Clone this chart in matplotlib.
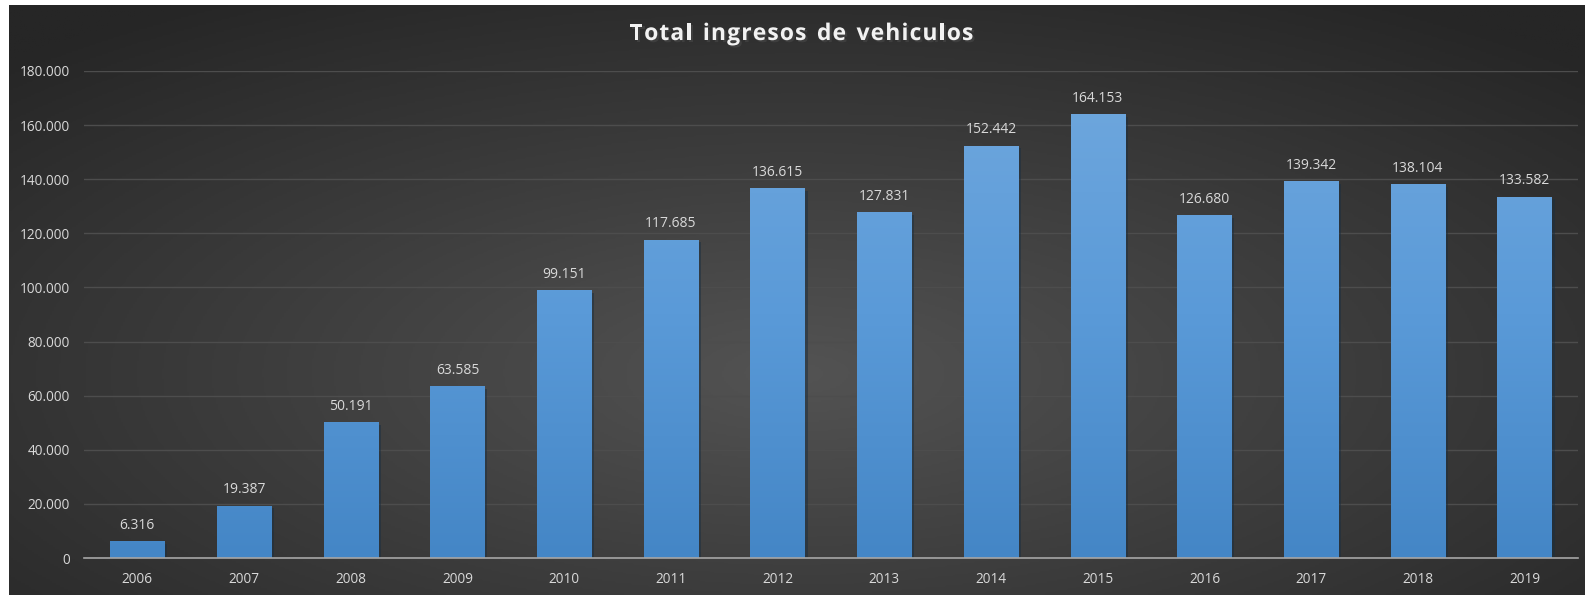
"""Total ingresos de vehiculos, 2006-2019 — Excel-style dark bar chart."""

import matplotlib

matplotlib.use("Agg")

import matplotlib.pyplot as plt
import matplotlib.patheffects as pe
import numpy as np
from matplotlib.colors import LinearSegmentedColormap
from matplotlib.ticker import FuncFormatter

years = ["2006", "2007", "2008", "2009", "2010", "2011", "2012",
         "2013", "2014", "2015", "2016", "2017", "2018", "2019"]
ingresos = [6316, 19387, 50191, 63585, 99151, 117685, 136615,
            127831, 152442, 164153, 126680, 139342, 138104, 133582]
yticks = [0, 20000, 40000, 60000, 80000, 100000, 120000, 140000, 160000, 180000]
TITLE = "Total ingresos de vehiculos"

plt.rcParams["font.family"] = ["Open Sans", "DejaVu Sans"]
TEXT = "#d9d9d9"


def miles(v, _=None):
    return f"{int(v):,}".replace(",", ".")


fig = plt.figure(figsize=(15.85, 5.95), dpi=100)
fig.patch.set_facecolor("white")

# dark radial-gradient chart area (white strip left/top like the screenshot)
bg = fig.add_axes([9 / 1585, 0, 1 - 9 / 1585, 1 - 5 / 595])
yy, xx = np.mgrid[-1:1:300j, -1:1:800j]
r = np.sqrt((xx * 0.95) ** 2 + ((yy - 0.25) * 0.9) ** 2)
bg_cmap = LinearSegmentedColormap.from_list("bg", ["#535353", "#3c3c3c", "#262626"])
bg.imshow(r, cmap=bg_cmap, aspect="auto", extent=[0, 1, 0, 1], vmin=0, vmax=1.35)
bg.set_axis_off()

ax = fig.add_axes([84 / 1585, 1 - 558 / 595, (1578 - 84) / 1585, (558 - 71) / 595])
ax.set_facecolor("none")
x = np.arange(len(years))
bars = ax.bar(x, ingresos, width=0.51, color="#5b9bd5", zorder=3,
              path_effects=[pe.SimplePatchShadow(offset=(2, -2), alpha=0.5),
                            pe.Normal()])

bar_cmap = LinearSegmentedColormap.from_list("bar", ["#4486c6", "#5a9ad8", "#70a8de"])
grad = np.linspace(0, 1, 256).reshape(-1, 1)
for bar, v in zip(bars, ingresos):
    bx, bw = bar.get_x(), bar.get_width()
    im = ax.imshow(grad, cmap=bar_cmap, origin="lower", aspect="auto",
                   extent=[bx, bx + bw, 0, 180000], zorder=4)
    im.set_clip_path(bar)
    ax.text(bx + bw / 2, v + 3000, miles(v), ha="center", va="bottom",
            fontsize=10, color=TEXT, zorder=5)

ax.set_xlim(-0.5, len(years) - 0.5)
ax.set_ylim(0, 180000)
ax.set_xticks(x)
ax.set_xticklabels(years)
ax.set_yticks(yticks)
ax.yaxis.set_major_formatter(FuncFormatter(miles))
ax.tick_params(length=0, labelsize=9.8, colors=TEXT, pad=10)
ax.grid(axis="y", color="#4d4d4d", linewidth=1, zorder=1)
ax.grid(axis="x", visible=False)
for side in ["top", "right", "left"]:
    ax.spines[side].set_visible(False)
ax.spines["bottom"].set_color("#a6a6a6")
ax.spines["bottom"].set_linewidth(1.2)
ax.spines["bottom"].set_zorder(6)

# title with letter spacing: place each character separately
renderer = fig.canvas.get_renderer()
title_kw = dict(fontsize=16.5, fontweight="bold", color="#f2f2f2", va="center",
                path_effects=[pe.withSimplePatchShadow(offset=(1.5, -1.5), alpha=0.6)])
spacing = 1.1  # px between letters
widths = []
for ch in TITLE:
    t = fig.text(0, 0, ch if ch != " " else "n", **title_kw)
    w = t.get_window_extent(renderer).width
    widths.append(w * 0.55 if ch == " " else w)
    t.remove()
total = sum(widths) + spacing * (len(TITLE) - 1)
xpos = (1585 - total) / 2 + 9
ty = 1 - 34 / 595
for ch, w in zip(TITLE, widths):
    if ch != " ":
        fig.text(xpos / 1585, ty, ch, ha="left", **title_kw)
    xpos += w + spacing

fig.savefig("out.png", dpi=100)
